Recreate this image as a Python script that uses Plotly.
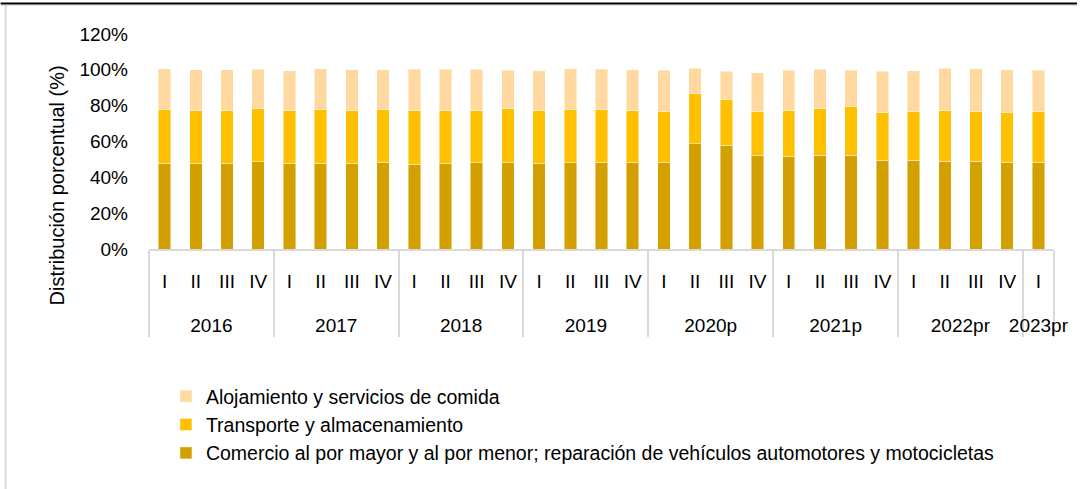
import plotly.graph_objects as go

# --- data ---------------------------------------------------------------
years = ["2016"] * 4 + ["2017"] * 4 + ["2018"] * 4 + ["2019"] * 4 + \
    ["2020p"] * 4 + ["2021p"] * 4 + ["2022pr"] * 4 + ["2023pr"]
quarters = ["I", "II", "III", "IV"] * 7 + ["I"]

comercio = [47.8, 47.8, 47.8, 48.7, 47.8, 47.8, 47.8, 48.3,
            47.4, 47.8, 48.3, 48.3, 47.8, 48.3, 48.3, 48.3,
            48.5, 58.7, 57.8, 52.2, 51.7, 52.2, 52.4, 49.4,
            49.4, 48.9, 48.9, 48.3, 48.3]
transporte = [29.9, 29.3, 29.3, 29.6, 29.3, 29.9, 29.3, 29.4,
              29.7, 29.3, 28.8, 29.9, 29.3, 29.4, 29.4, 28.8,
              28.1, 27.9, 25.7, 24.4, 25.4, 26.1, 27.0, 26.6,
              27.2, 28.2, 27.7, 27.7, 28.3]
alojamiento = [22.9, 22.9, 22.9, 21.9, 22.5, 22.9, 22.9, 22.3,
               23.1, 23.1, 23.1, 21.6, 22.3, 22.9, 22.7, 22.9,
               23.2, 14.3, 15.6, 21.7, 22.7, 22.1, 20.4, 23.3,
               22.8, 23.8, 24.0, 24.0, 23.2]

series = [
    ("Comercio al por mayor y al por menor; reparación de vehículos automotores y motocicletas", comercio, "#D4A000"),
    ("Transporte y almacenamiento", transporte, "#FFC000"),
    ("Alojamiento y servicios de comida", alojamiento, "#FFD9A0"),
]

W, H = 1081, 489
ML, MR, MT, MB = 149, 23, 34, 240
FONT = "Liberation Sans, Arial"

# category labels drawn at 19px inside a larger axis font, which spaces the
# year row further from the quarter row (as in the excel chart)
span = "<span style='font-size:19px'>{}</span>"
year_labels = ["<br>" + span.format(y) for y in years]
quarter_labels = [span.format(q) for q in quarters]


def px(x):
    return (x - ML) / (W - ML - MR)


def py(y):
    return (H - MB - y) / (H - MT - MB)


fig = go.Figure()
for name, vals, color in series:
    fig.add_trace(go.Bar(
        x=[year_labels, quarter_labels], y=vals, name=name,
        marker=dict(color=color, line=dict(color="rgba(255,255,255,0.45)", width=1)),
    ))

fig.update_layout(
    width=W, height=H,
    margin=dict(l=ML, r=MR, t=MT, b=MB),
    barmode="stack", bargap=0.6,
    paper_bgcolor="white", plot_bgcolor="white",
    font=dict(family=FONT, size=19, color="#000000"),
    showlegend=True,
    legend=dict(
        x=px(166), y=py(377), xanchor="left", yanchor="top",
        traceorder="reversed", font=dict(family=FONT, size=19.5),
        itemclick=False, tracegroupgap=0,
    ),
)
fig.update_yaxes(
    range=[0, 120], dtick=20, ticksuffix="%", showgrid=False,
    zeroline=False, showline=False, ticklabelstandoff=20,
    tickfont=dict(family=FONT, size=19),
)
fig.update_xaxes(
    type="multicategory", showgrid=False, showline=True,
    linecolor="#D9D9D9", linewidth=2, showdividers=True,
    dividercolor="#D9D9D9", dividerwidth=2, ticklabelstandoff=9,
    tickfont=dict(family=FONT, size=23),
)

fig.add_annotation(
    text="Distribución porcentual (%)", textangle=-90,
    xref="paper", yref="paper", x=px(57), y=py(185),
    xanchor="center", yanchor="middle",
    showarrow=False, font=dict(family=FONT, size=20),
)

# chart frame
fig.add_shape(type="line", xref="paper", yref="paper",
              x0=px(0), x1=px(W), y0=py(3.5), y1=py(3.5),
              line=dict(color="black", width=2))
fig.add_shape(type="line", xref="paper", yref="paper",
              x0=px(0), x1=px(W), y0=py(5.5), y1=py(5.5),
              line=dict(color="#E6E6E6", width=1))
fig.add_shape(type="line", xref="paper", yref="paper",
              x0=px(5), x1=px(5), y0=py(5), y1=py(H),
              line=dict(color="#D9D9D9", width=2))

# the page's default body margin would shift the whole chart by 8px
fig.write_html("out.html", config={"displayModeBar": False},
               post_script="document.body.style.margin='0';")
